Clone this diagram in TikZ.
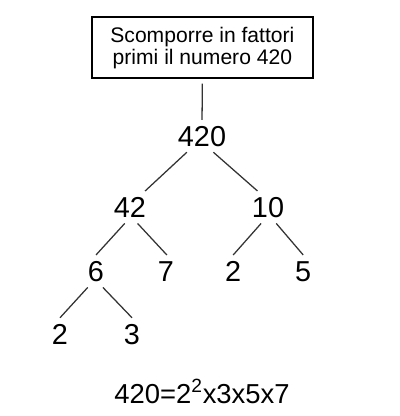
\documentclass[tikz,border=0pt]{standalone}
\usepackage{fontspec}
\setmainfont{Liberation Sans}
\usetikzlibrary{positioning}

\begin{document}
\begin{tikzpicture}

\tikzset{
titlebox/.style = {rectangle, draw, line width = 1.1pt, align = center,
	minimum width = 5.53cm, minimum height = 1.52cm, inner sep = 2pt,
	font = \fontsize{15}{15.6}\selectfont},
factor/.style = {inner sep = 4pt, text height = 14.7pt, text depth = 0pt,
	font = \fontsize{20.5}{24}\selectfont},
branch/.style = {draw = black!80, line width = 0.9pt},
}

\useasboundingbox (0, 0) rectangle (10, -10.4);

%% Title
\node at (5.06, -1.19) [titlebox] (title) {Scomporre in fattori\\primi il numero 420};

%% Tree
% Factors
\node at (5.05, -3.40) [factor] (n420) {420};
\node at (3.25, -5.18) [factor] (n42) {42};
\node at (6.70, -5.18) [factor] (n10) {10};
\node at (2.40, -6.78) [factor] (n6) {6};
\node at (4.15, -6.78) [factor] (n7) {7};
\node at (5.83, -6.78) [factor] (n2b) {2};
\node at (7.58, -6.78) [factor] (n5) {5};
\node at (1.50, -8.35) [factor] (n2a) {2};
\node at (3.30, -8.35) [factor] (n3) {3};

% Branches
\path [branch, shorten < = 1.2mm] (title) edge (n420);
\path [branch] (n420.-133) edge (n42.47);
\path [branch] (n420.-55) edge (n10.123);
\path [branch] (n42.-108) edge (n6.north);
\path [branch] (n42.-65) edge (n7.87);
\path [branch] (n10.-113) edge (n2b.north);
\path [branch] (n10.-63) edge (n5.north);
\path [branch] (n6.-117) edge (n2a.north);
\path [branch] (n6.-67) edge (n3.north);

%% Result
\node at (5.05, -9.83) [factor, font = \fontsize{19.5}{24}\selectfont] (result)
	{420=2\textsuperscript{2}x3x5x7};

\end{tikzpicture}
\end{document}
